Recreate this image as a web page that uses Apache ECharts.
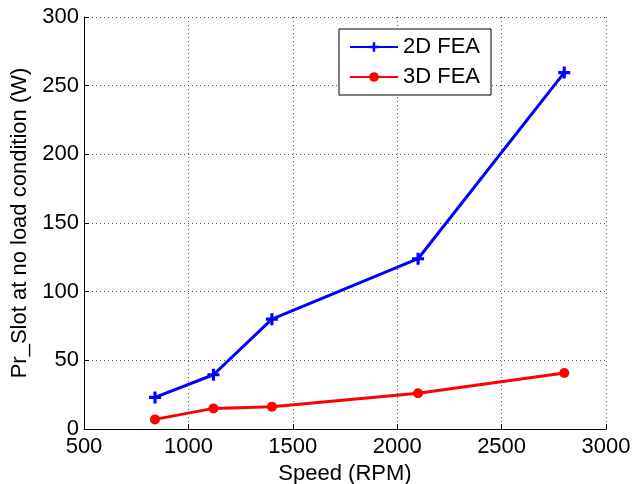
<!DOCTYPE html>
<html>
<head>
<meta charset="utf-8">
<script src="https://cdn.jsdelivr.net/npm/echarts@6/dist/echarts.min.js"></script>
<style>
  html, body { margin: 0; padding: 0; background: #fff; }
  #chart { width: 634px; height: 484px; }
</style>
</head>
<body>
<div id="chart"></div>
<script>
// Slot loss at no load versus rotor speed, 2D vs 3D finite-element results
const speeds = [840, 1120, 1400, 2100, 2800];
const fea2d = [23, 39.5, 80, 124, 259.5];
const fea3d = [7, 15, 16.2, 26, 40.8];
const xTicks = { min: 500, max: 3000, interval: 500 };
const yTicks = { min: 0, max: 300, interval: 50 };

const FONT = '"Liberation Sans", Arial, sans-serif';
const FS = 22;
const plusPath = 'path://M-1.3,-5H1.3V-1.3H5V1.3H1.3V5H-1.3V1.3H-5V-1.3H-1.3Z';

const chart = echarts.init(document.getElementById('chart'), null, { renderer: 'canvas' });

const dotted = { color: '#555', width: 1, type: [1, 3] };

chart.setOption({
  animation: false,
  backgroundColor: '#fff',
  grid: { left: 84, right: 28, top: 17, bottom: 55, containLabel: false, outerBoundsMode: 'none' },
  legend: {
    orient: 'vertical',
    left: 339,
    top: 29,
    itemWidth: 48,
    itemHeight: 12,
    itemGap: 8,
    padding: [7, 11, 7, 10],
    backgroundColor: '#fff',
    borderColor: '#000',
    borderWidth: 1,
    textStyle: { fontFamily: FONT, fontSize: FS, color: '#000', lineHeight: 22 },
    data: ['2D FEA', '3D FEA']
  },
  xAxis: {
    type: 'value',
    min: xTicks.min, max: xTicks.max, interval: xTicks.interval,
    name: 'Speed (RPM)',
    nameLocation: 'middle',
    nameGap: 30,
    nameTextStyle: { fontFamily: FONT, fontSize: FS, color: '#000' },
    axisLine: { show: true, onZero: false, lineStyle: { color: '#000', width: 1 } },
    axisTick: { show: true, inside: true, length: 5, lineStyle: { color: '#000' } },
    axisLabel: { fontFamily: FONT, fontSize: FS, color: '#000', margin: 7, formatter: v => String(v) },
    splitLine: { show: true, lineStyle: dotted }
  },
  yAxis: {
    type: 'value',
    min: yTicks.min, max: yTicks.max, interval: yTicks.interval,
    name: 'Pr_Slot at no load condition (W)',
    nameLocation: 'middle',
    nameGap: 52,
    nameTextStyle: { fontFamily: FONT, fontSize: FS, color: '#000' },
    axisLine: { show: true, lineStyle: { color: '#000', width: 1 } },
    axisTick: { show: true, inside: true, length: 5, lineStyle: { color: '#000' } },
    axisLabel: { fontFamily: FONT, fontSize: FS, color: '#000', margin: 5, formatter: v => String(v) },
    splitLine: { show: true, lineStyle: dotted }
  },
  series: [
    {
      name: '2D FEA',
      type: 'line',
      data: speeds.map((s, i) => [s, fea2d[i]]),
      color: '#0000ff',
      lineStyle: { width: 3, color: '#0000ff' },
      symbol: plusPath,
      symbolSize: 12,
      showAllSymbol: true,
      itemStyle: { color: '#0000ff' },
      z: 3
    },
    {
      name: '3D FEA',
      type: 'line',
      data: speeds.map((s, i) => [s, fea3d[i]]),
      color: '#ff0000',
      lineStyle: { width: 3, color: '#ff0000' },
      symbol: 'circle',
      symbolSize: 10,
      showAllSymbol: true,
      itemStyle: { color: '#ff0000' },
      z: 3
    }
  ]
});
</script>
</body>
</html>
